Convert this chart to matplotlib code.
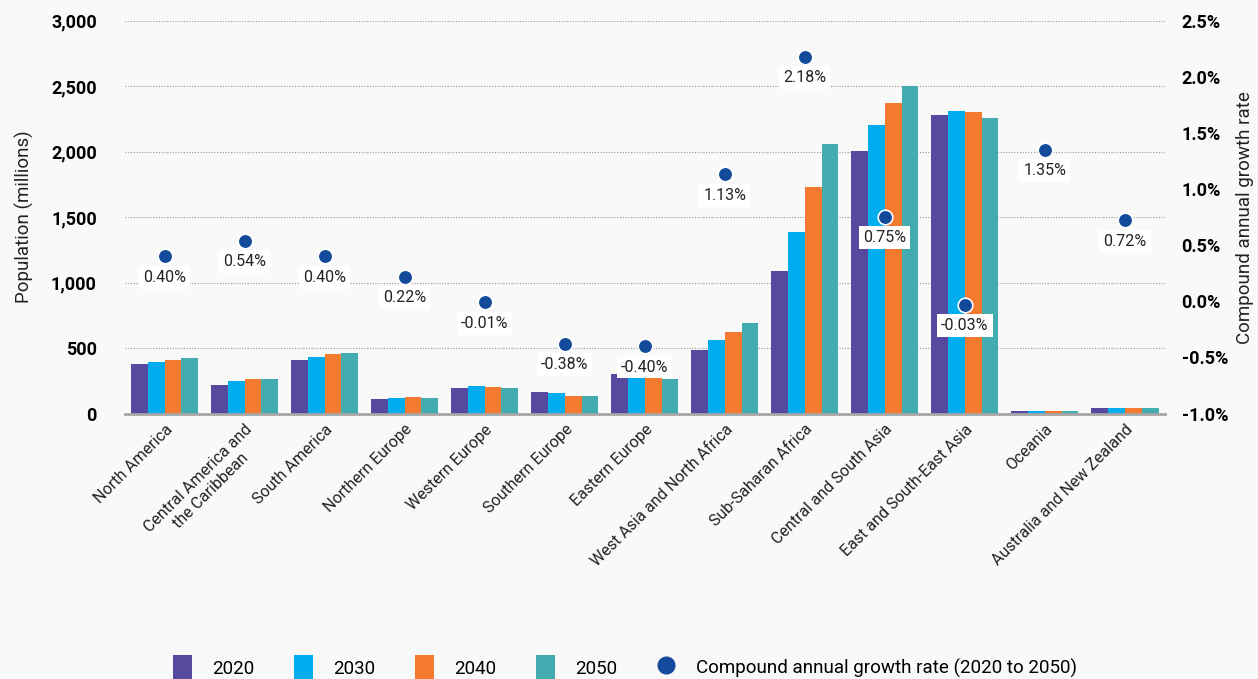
import matplotlib.pyplot as plt
import numpy as np
from matplotlib.patches import Patch
from matplotlib.lines import Line2D
from matplotlib.ticker import FuncFormatter

plt.rcParams['font.family'] = ['Roboto', 'DejaVu Sans']

regions = ["North America", "Central America and\nthe Caribbean", "South America",
           "Northern Europe", "Western Europe", "Southern Europe", "Eastern Europe",
           "West Asia and North Africa", "Sub-Saharan Africa", "Central and South Asia",
           "East and South-East Asia", "Oceania", "Australia and New Zealand"]
years = ["2020", "2030", "2040", "2050"]
pop_2020 = [375, 216, 407, 109, 193, 163, 300, 484, 1087, 2004, 2279, 18, 40]
pop_2030 = [390, 247, 430, 117, 209, 155, 277, 560, 1385, 2203, 2310, 18, 40]
pop_2040 = [405, 262, 453, 125, 201, 132, 277, 621, 1730, 2371, 2302, 18, 40]
pop_2050 = [421, 262, 461, 117, 193, 132, 262, 690, 2057, 2500, 2256, 18, 40]
cagr = [0.40, 0.54, 0.40, 0.22, -0.01, -0.38, -0.40, 1.13, 2.18, 0.75, -0.03, 1.35, 0.72]

bar_colors = ["#574a9e", "#00aeef", "#f37a2f", "#43acb0"]
dot_color = "#134a9b"
bg = "#f9f9f9"

fig = plt.figure(figsize=(12.58, 6.79), dpi=100, facecolor=bg)
ax = fig.add_axes([0.099, 0.391, 0.827, 0.5785])
ax.set_facecolor(bg)

x = np.arange(len(regions))
w = 0.21
series = [pop_2020, pop_2030, pop_2040, pop_2050]
for i, vals in enumerate(series):
    ax.bar(x + (i - 1.5) * w, vals, width=w, color=bar_colors[i], zorder=2)

ax.set_xlim(-0.5, len(regions) - 0.5)
ax.set_ylim(0, 3000)
ax.set_yticks(range(0, 3001, 500))
ax.yaxis.set_major_formatter(FuncFormatter(lambda v, p: f"{int(v):,}"))
ax.grid(axis='y', linestyle=(0, (1, 1.5)), color='#9a9a9a', linewidth=0.8, zorder=0)
ax.set_axisbelow(True)
for s in ['top', 'right', 'left']:
    ax.spines[s].set_visible(False)
ax.spines['bottom'].set_color('#a6a6a6')
ax.spines['bottom'].set_linewidth(2)
ax.tick_params(axis='y', length=0, pad=20, labelsize=13)
ax.tick_params(axis='x', length=0, pad=6)
for lab in ax.get_yticklabels():
    lab.set_fontweight('bold')
ax.set_xticks(x)
ax.set_xticklabels(regions, rotation=45, ha='right', rotation_mode='anchor',
                   fontsize=11.5, color='#222222', multialignment='center')
ax.set_ylabel("Population (millions)", fontsize=13.5, color='#222222', labelpad=12)

ax2 = ax.twinx()
ax2.set_ylim(-1.0, 2.5)
ax2.set_yticks(np.arange(-1.0, 2.51, 0.5))
ax2.yaxis.set_major_formatter(FuncFormatter(lambda v, p: f"{v:.1f}%"))
for s in ['top', 'right', 'left', 'bottom']:
    ax2.spines[s].set_visible(False)
ax2.tick_params(axis='y', length=0, pad=12, labelsize=13)
for lab in ax2.get_yticklabels():
    lab.set_fontweight('bold')
ax2.set_ylabel("Compound annual growth rate", fontsize=13.5, color='#222222', labelpad=6)

ax2.scatter(x, cagr, s=110, color=dot_color, edgecolor='white', linewidth=1.2, zorder=4)
for xi, v in zip(x, cagr):
    ax2.annotate(f"{v:.2f}%", (xi, v), xytext=(0, -15), textcoords='offset points',
                 ha='center', va='center', fontsize=11.5, color='#222222', zorder=3,
                 bbox=dict(boxstyle='square,pad=0.25', facecolor='white', edgecolor='none'))

handles = [Patch(facecolor=c, label=y) for c, y in zip(bar_colors, years)]
handles.append(Line2D([], [], marker='o', linestyle='none', markersize=12,
                      markerfacecolor=dot_color, markeredgecolor=dot_color,
                      label="Compound annual growth rate (2020 to 2050)"))
fig.legend(handles=handles, loc='center', bbox_to_anchor=(0.497, 0.016), ncol=5,
           frameon=False, fontsize=13.5, handlelength=1.0, handleheight=1.8,
           columnspacing=2.1, handletextpad=1.1)

fig.savefig("out.png", dpi=100, facecolor=bg)
